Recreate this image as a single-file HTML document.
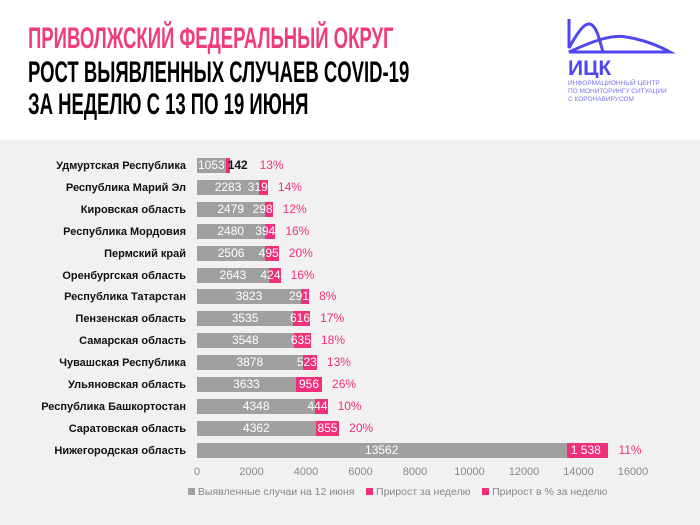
<!DOCTYPE html>
<html><head><meta charset="utf-8"><style>
body{margin:0;width:700px;height:525px;overflow:hidden;background:#f1f1f1;font-family:"Liberation Sans",sans-serif;position:relative}
#hdr{position:absolute;left:0;top:0;width:700px;height:140px;background:#fff}
.t{position:absolute;left:28px;font-family:"Liberation Sans Narrow","Liberation Sans",sans-serif;font-weight:bold;font-size:30px;line-height:30px;white-space:nowrap;transform-origin:0 0;transform:scaleX(0.617)}
.lab{position:absolute;right:514px;font-size:11px;font-weight:bold;color:#111;white-space:nowrap;line-height:15px}
.g{position:absolute;height:15px;background:#a0a0a0}
.p{position:absolute;height:15px;background:#f0307a}
.v{position:absolute;font-size:12px;color:#fff;line-height:15px;white-space:nowrap}
.pc{position:absolute;font-size:12px;color:#f0307a;line-height:15px}
.ax{position:absolute;top:466px;font-size:11px;color:#888;transform:translateX(-50%)}
</style></head><body>
<div id="hdr">
<div class="t" style="top:24px;color:#f03c78">ПРИВОЛЖСКИЙ ФЕДЕРАЛЬНЫЙ ОКРУГ</div>
<div class="t" style="top:58px;color:#000">РОСТ ВЫЯВЛЕННЫХ СЛУЧАЕВ COVID-19</div>
<div class="t" style="top:90px;color:#000">ЗА НЕДЕЛЮ С 13 ПО 19 ИЮНЯ</div>
<svg style="position:absolute;left:566px;top:18px" width="110" height="60" viewBox="0 0 110 60">
<path d="M3,1 V30 C15,8 25,-6 33,20 L37,34" fill="none" stroke="#5046f0" stroke-width="3"/>
<path d="M3,34 C25,24 45,16 60,19 C80,22 95,29 104,34 Z" fill="none" stroke="#5046f0" stroke-width="3"/>
<text x="2" y="57" font-family="Liberation Sans" font-weight="bold" font-size="21" fill="#5046f0">ИЦК</text>
</svg>
<div style="position:absolute;left:568px;top:80px;font-size:6.5px;line-height:8px;color:#7a72f0">ИНФОРМАЦИОННЫЙ ЦЕНТР<br>ПО МОНИТОРИНГУ СИТУАЦИИ<br>С КОРОНАВИРУСОМ</div>
</div>
<div id="c"></div>
<div style="position:absolute;top:486px;left:188px;font-size:10.5px;color:#888;white-space:nowrap">
<span style="display:inline-block;width:7px;height:7px;background:#a0a0a0"></span> Выявленные случаи на 12 июня &nbsp;&nbsp; <span style="display:inline-block;width:7px;height:7px;background:#f0307a"></span> Прирост за неделю &nbsp;&nbsp; <span style="display:inline-block;width:7px;height:7px;background:#f0307a"></span> Прирост в % за неделю</div>
<script>
var d=[["Удмуртская Республика",1053,142,"13%"],["Республика Марий Эл",2283,319,"14%"],["Кировская область",2479,298,"12%"],["Республика Мордовия",2480,394,"16%"],["Пермский край",2506,495,"20%"],["Оренбургская область",2643,424,"16%"],["Республика Татарстан",3823,291,"8%"],["Пензенская область",3535,616,"17%"],["Самарская область",3548,635,"18%"],["Чувашская Республика",3878,523,"13%"],["Ульяновская область",3633,956,"26%"],["Республика Башкортостан",4348,444,"10%"],["Саратовская область",4362,855,"20%"],["Нижегородская область",13562,1538,"11%"]];
var x0=197,k=436/16000,h="";
d.forEach(function(r,i){var y=158+i*21.9;var gw=r[1]*k,pw=r[2]*k;
h+='<div class="lab" style="top:'+(y+1)+'px">'+r[0]+'</div>';
h+='<div class="g" style="left:'+x0+'px;top:'+y+'px;width:'+gw+'px"></div>';
h+='<div class="p" style="left:'+(x0+gw)+'px;top:'+y+'px;width:'+pw+'px"></div>';
var gt=String(r[1]).length*6.7;
h+='<div class="v" style="left:'+(i==0?x0+1:x0+gw/2-gt/2)+'px;top:'+y+'px">'+r[1]+'</div>';
var pv=i==13?"1 538":String(r[2]);var tw=pv.length*6.7;
var left=tw>pw?(x0+gw+pw-tw):(x0+gw+pw/2-tw/2);
if(i==0)h+='<div class="v" style="color:#111;font-weight:bold;left:'+(x0+gw+2)+'px;top:'+y+'px">'+pv+'</div>';
else h+='<div class="v" style="left:'+left+'px;top:'+y+'px">'+pv+'</div>';
h+='<div class="pc" style="left:'+(x0+gw+pw+(i==0?30:10))+'px;top:'+y+'px">'+r[3]+'</div>';});
for(var t=0;t<=16000;t+=2000)h+='<div class="ax" style="left:'+(x0+t*k)+'px">'+t+'</div>';
document.getElementById("c").innerHTML=h;
</script>
</body></html>
